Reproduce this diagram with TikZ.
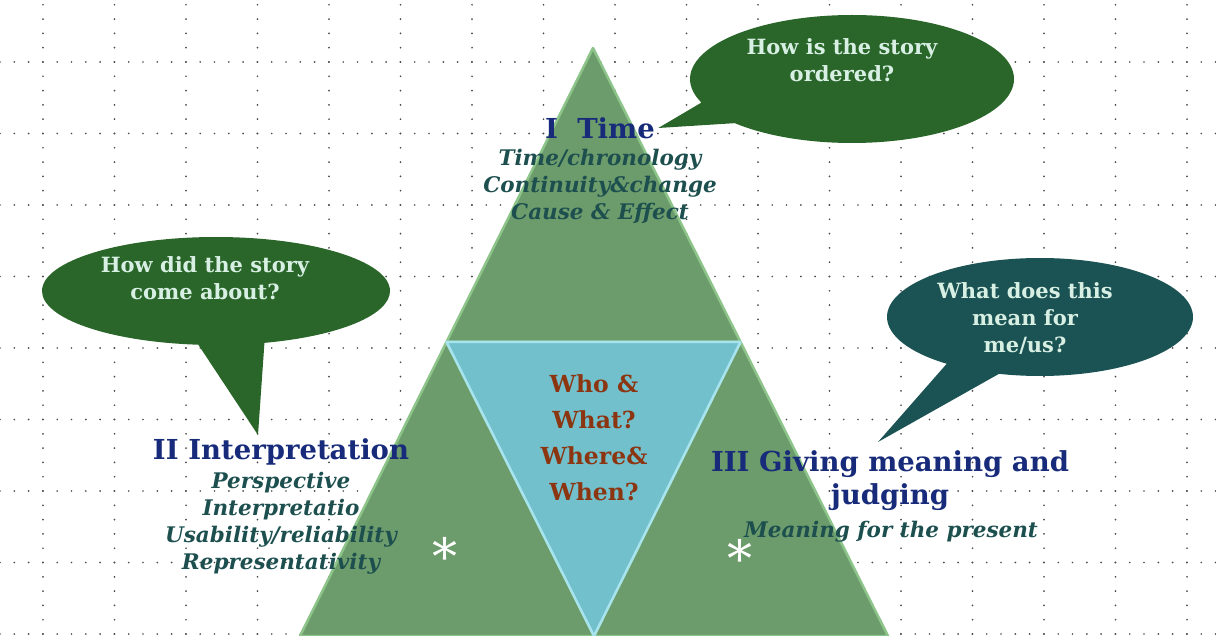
\documentclass[tikz,border=0pt]{standalone}
\usepackage{fontspec}
\setmainfont{DejaVu Serif}
\usetikzlibrary{shapes.callouts,calc}

\definecolor{dotgray}{HTML}{4A4A4A}
\definecolor{sage}{HTML}{6D9C6C}
\definecolor{sageedge}{HTML}{8CC48A}
\definecolor{skyblue}{HTML}{72C0CC}
\definecolor{skyedge}{HTML}{A8E4EE}
\definecolor{bubblegreen}{HTML}{2A6629}
\definecolor{bubbleteal}{HTML}{1B5253}
\definecolor{mint}{HTML}{D8F0E4}
\definecolor{navy}{HTML}{172B7A}
\definecolor{darkteal}{HTML}{1D4F4F}
\definecolor{rust}{HTML}{8C3511}

\tikzset{
  greentri/.style={fill=sage,draw=sageedge,line width=2.5pt,line join=round},
  bluetri/.style={fill=skyblue,draw=skyedge,line width=2.5pt,line join=round},
  bubble/.style={ellipse callout,callout pointer arc=22,inner sep=0pt},
  bubbletext/.style={text=mint,font=\bfseries\fontsize{21}{27}\selectfont,align=center},
  headtext/.style={text=navy,font=\bfseries\fontsize{27.5}{33}\selectfont,align=center},
  subtext/.style={text=darkteal,font=\bfseries\itshape\fontsize{21.5}{27}\selectfont,align=center},
  whotext/.style={text=rust,font=\bfseries\fontsize{23.5}{36}\selectfont,align=center},
  asterisk/.style={text=white,font=\fontsize{50}{50}\selectfont,inner sep=0pt}
}

\begin{document}
\begin{tikzpicture}[x=1pt,y=-1pt]
\useasboundingbox (0,0) rectangle (1216,636);

% dotted grid
\foreach \r in {-1,...,8}
  \foreach \i in {0,...,85}
    \fill[dotgray] (\i*14.3,62+\r*71.5) circle (0.95);
\foreach \c in {0,...,16}
  \foreach \i in {0,...,45}
    \fill[dotgray] (43+\c*71.5,-9.5+\i*14.3) circle (0.95);

% pyramid
\coordinate (apex) at (593,48);
\coordinate (bl) at (300,636);
\coordinate (br) at (888,636);
\coordinate (ml) at ($(apex)!0.5!(bl)$);
\coordinate (mr) at ($(apex)!0.5!(br)$);
\coordinate (mb) at ($(bl)!0.5!(br)$);
\filldraw[greentri] (apex) -- (mr) -- (ml) -- cycle;
\filldraw[greentri] (ml) -- (mb) -- (bl) -- cycle;
\filldraw[greentri] (mr) -- (br) -- (mb) -- cycle;
\filldraw[bluetri] (ml) -- (mr) -- (mb) -- cycle;

% texts
\node[headtext] (timehead) at (600,128) {I\ \ Time};
\node[subtext] (timesub) at (600,186) {Time/chronology\\Continuity\&change\\Cause \& Effect};
\node[headtext] (interphead) at (281,452) {II Interpretation};
\node[subtext] (interpsub) at (281,523) {Perspective\\Interpretatio\\Usability/reliability\\Representativity};
\node[whotext] (who) at (594,438) {Who \&\\What?\\Where\&\\When?};
\node[headtext] (meaninghead) at (890,481) {III Giving meaning and\\judging};
\node[subtext] (meaningsub) at (891,532) {Meaning for the present};
\node[asterisk] (astL) at (445,556) {*};
\node[asterisk] (astR) at (740,558) {*};

% speech bubbles
\coordinate (tipL) at (258,435);
\coordinate (tipR) at (878,442);
\node[bubble,fill=bubblegreen,minimum width=324,minimum height=128,
  callout absolute pointer={(timehead.east)}] (bubbleT) at (852,79) {};
\node[bubbletext] at (842,60) {How is the story\\ordered?};
\node[bubble,fill=bubblegreen,minimum width=348,minimum height=108,
  callout absolute pointer={(tipL)}] (bubbleL) at (216,291) {};
\node[bubbletext] at (205,278) {How did the story\\come about?};
\node[bubble,fill=bubbleteal,minimum width=306,minimum height=118,
  callout absolute pointer={(tipR)}] (bubbleR) at (1040,317) {};
\node[bubbletext] at (1025,318) {What does this\\mean for\\me/us?};
\end{tikzpicture}
\end{document}
